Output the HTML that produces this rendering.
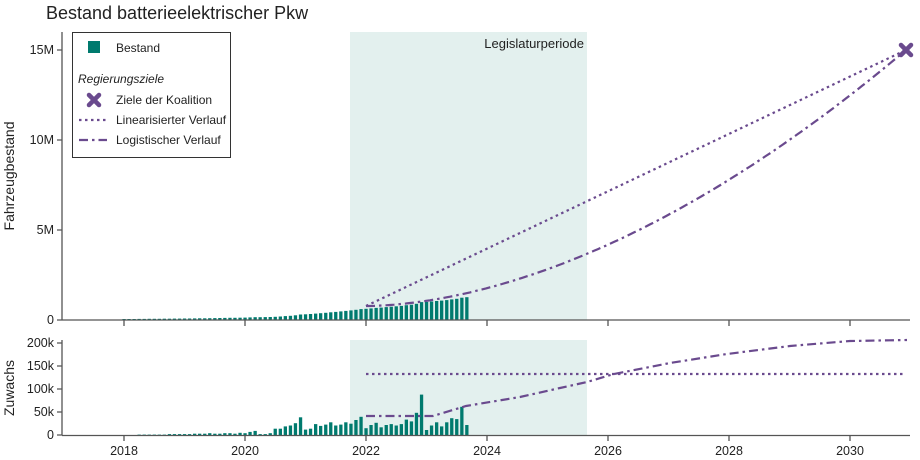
<!DOCTYPE html>
<html><head><meta charset="utf-8"><style>
body{margin:0;background:#fff}
svg{display:block;font-family:"Liberation Sans",Arial,sans-serif}
</style></head><body>
<svg id="s" width="920" height="460" xmlns="http://www.w3.org/2000/svg">
<rect width="920" height="460" fill="#fff"/>
<text x="46" y="19" font-size="18" fill="#222">Bestand batterieelektrischer Pkw</text>
<rect x="350" y="32" width="237" height="288" fill="#e3f0ee"/>
<rect x="350" y="340" width="237" height="95" fill="#e3f0ee"/>
<text x="584" y="48" font-size="13" text-anchor="end" fill="#222">Legislaturperiode</text>
<g id="bars"></g>
<g stroke="#555" stroke-width="1.3" fill="none">
<line x1="62" y1="32" x2="62" y2="320"/>
<line x1="62" y1="320" x2="910" y2="320"/>
<line x1="62" y1="340" x2="62" y2="435.5"/>
<line x1="62" y1="435.5" x2="910" y2="435.5"/>
<path d="M57 50H62M57 140H62M57 230H62M57 320H62M57 343H62M57 366H62M57 389H62M57 412H62M57 435H62"/>
<path d="M124 320v6M245 320v6M366 320v6M487 320v6M608 320v6M729 320v6M850 320v6"/>
<path d="M124 435v6M245 435v6M366 435v6M487 435v6M608 435v6M729 435v6M850 435v6"/>
</g>
<g font-size="12.5" fill="#222" text-anchor="end">
<text x="54" y="54">15M</text><text x="54" y="144">10M</text><text x="54" y="234">5M</text><text x="54" y="324">0</text>
<text x="54" y="347">200k</text><text x="54" y="370">150k</text><text x="54" y="393">100k</text><text x="54" y="416">50k</text><text x="54" y="439">0</text>
</g>
<g font-size="12.5" fill="#222" text-anchor="middle">
<text x="124" y="455">2018</text><text x="245" y="455">2020</text><text x="366" y="455">2022</text><text x="487" y="455">2024</text><text x="608" y="455">2026</text><text x="729" y="455">2028</text><text x="850" y="455">2030</text>
</g>
<text transform="translate(14,176) rotate(-90)" font-size="14" fill="#222" text-anchor="middle">Fahrzeugbestand</text>
<text transform="translate(14,388) rotate(-90)" font-size="14" fill="#222" text-anchor="middle">Zuwachs</text>
<g fill="none" stroke="#6a4a8e" stroke-width="2.2">
<path d="M366 306 L906 50" stroke-dasharray="2.5,3.5"/>
<path id="logi" d="" stroke-dasharray="9,4,2.5,4"/>
<path d="M366 374 L906 374" stroke-dasharray="2.5,3.5"/>
<path d="M366 416 L433 416 L466 406 L520 397 L560 388 L587 382 L614 374 L670 363 L727 354 L790 346 L850 341 L907 340" stroke-dasharray="9,4,2.5,4"/>
</g>
<g transform="translate(906,50)" stroke="#6a4a8e" stroke-width="4.5" stroke-linecap="round">
<line x1="-5" y1="-5" x2="5" y2="5"/><line x1="-5" y1="5" x2="5" y2="-5"/>
</g>
<rect x="72.5" y="32.5" width="158" height="125" fill="#fff" stroke="#333" stroke-width="1"/>
<rect x="88" y="41" width="12" height="12" fill="#007a6e"/>
<text x="116" y="52" font-size="12" fill="#222">Bestand</text>
<text x="78" y="83" font-size="12" font-style="italic" fill="#222">Regierungsziele</text>
<g transform="translate(94,100)" stroke="#6a4a8e" stroke-width="4.5" stroke-linecap="round">
<line x1="-5" y1="-5" x2="5" y2="5"/><line x1="-5" y1="5" x2="5" y2="-5"/></g>
<text x="116" y="104" font-size="12" fill="#222">Ziele der Koalition</text>
<line x1="79" y1="120" x2="107" y2="120" stroke="#6a4a8e" stroke-width="2.2" stroke-dasharray="2.5,3.5"/>
<text x="116" y="124" font-size="12" fill="#222">Linearisierter Verlauf</text>
<line x1="79" y1="140" x2="107" y2="140" stroke="#6a4a8e" stroke-width="2.2" stroke-dasharray="9,4,2.5,4"/>
<text x="116" y="144" font-size="12" fill="#222">Logistischer Verlauf</text>
</svg>
<script>
var inc=[1,1,1,2,2,2,2,2,2,3,3,3, 3,3,4,4,4,5,4,4,5,5,4,6, 5,8,10,3,3,5,15,15,20,22,27,40, 13,15,25,21,24,29,22,24,29,26,34,41, 16,23,28,18,23,25,22,25,35,31,50,90, 12,22,29,20,29,38,36,63,23];
var g=document.getElementById('bars'),c=55,h='';
for(var i=0;i<inc.length;i++){c+=inc[i];var x=124+i*60.5/12-1.6;
var ht=c/1000*18;h+='<rect x="'+x.toFixed(1)+'" y="'+(320-ht).toFixed(1)+'" width="3.3" height="'+ht.toFixed(1)+'" fill="#007a6e"/>';
var hb=inc[i]*0.455;h+='<rect x="'+x.toFixed(1)+'" y="'+(435.5-hb).toFixed(1)+'" width="3.3" height="'+hb.toFixed(1)+'" fill="#007a6e"/>';}
g.innerHTML=h;
var d='M366 306';
for(var x=370;x<=906;x+=4){var y=306-256*Math.pow((x-366)/540,1.78);d+=' L'+x+' '+y.toFixed(1);}
document.getElementById('logi').setAttribute('d',d);
</script>
</body></html>
